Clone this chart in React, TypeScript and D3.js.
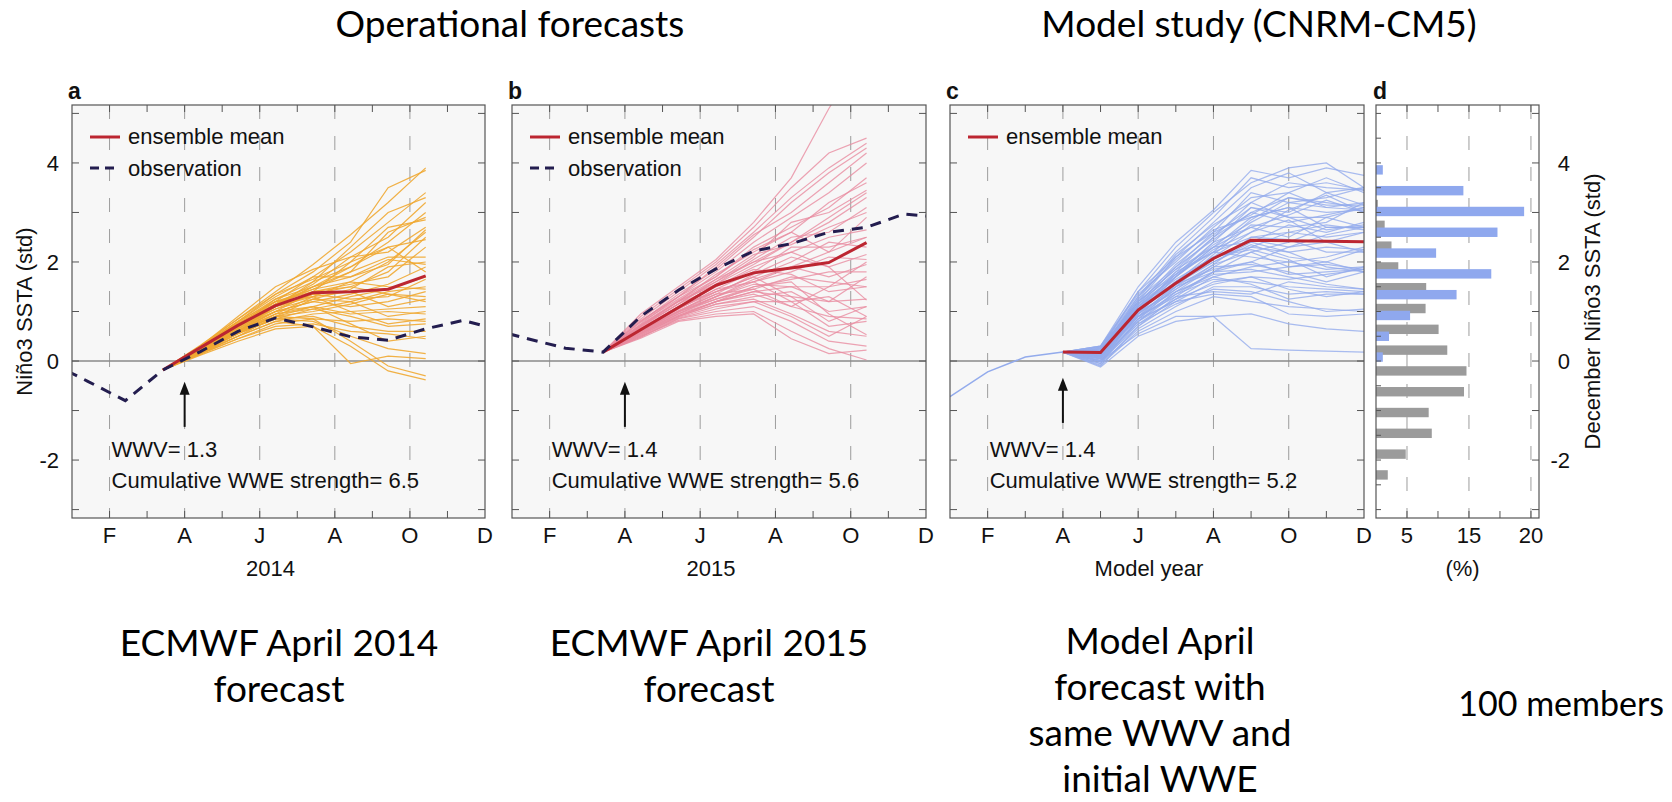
import React from 'react';
import * as d3 from 'd3';

const W = 1672;
const H = 802;
const TOP = 105;
const BOTTOM = 518;
const FONT = "'Liberation Sans', Arial, Helvetica, sans-serif";
const TITLE_FONT = "Lato, 'Open Sans', sans-serif";

// y axis (std) shared by all panels
const yDomain: [number, number] = [-3.17, 5.17];
const yTickLabels = [4, 2, 0, -2];

// months: 1 = Jan (left edge) ... 12 = Dec (right edge)
const monthGrid = [2, 4, 6, 8, 10, 12];
const monthGridLabels = ['F', 'A', 'J', 'A', 'O', 'D'];
// monthly means in a and b are drawn a bit after the month start
const MONTH_OFFSET = 0.42;

// observations (prev Dec .. Dec)
const obsMonths = [0, 1, 2, 3, 4, 5, 6, 7, 8, 9, 10, 11, 12];
const obsA = [-0.03, -0.41, -0.8, -0.18, 0.19, 0.6, 0.87, 0.69, 0.49, 0.42, 0.65, 0.82, 0.62];
const obsB = [0.65, 0.45, 0.26, 0.18, 0.9, 1.43, 1.86, 2.22, 2.37, 2.6, 2.7, 2.97, 2.9];

// ECMWF forecasts: start in March, members Apr..Oct
const startMonthAB = 3;
const memberMonthsAB = [4, 5, 6, 7, 8, 9, 10];
const meanMonthsAB = [3, 4, 5, 6, 7, 8, 9, 10];
const startA = -0.18;
const meanA = [-0.18, 0.27, 0.72, 1.12, 1.38, 1.4, 1.45, 1.72];
const membersA = [
  [0.32, 0.85, 1.4, 1.95, 2.55, 3.2, 3.9],
  [0.3, 0.8, 1.35, 1.8, 2.4, 3.5, 3.85],
  [0.28, 0.75, 1.2, 1.7, 2.2, 2.8, 3.4],
  [0.25, 0.7, 1.25, 1.6, 2.3, 3.0, 3.3],
  [0.3, 0.9, 1.5, 1.85, 2.1, 2.5, 3.2],
  [0.22, 0.65, 1.1, 1.5, 1.9, 2.4, 3.0],
  [0.27, 0.75, 1.2, 1.45, 1.8, 2.6, 2.9],
  [0.2, 0.6, 1.0, 1.4, 2.0, 2.7, 2.85],
  [0.25, 0.7, 1.15, 1.55, 2.1, 2.2, 2.7],
  [0.3, 0.8, 1.3, 1.7, 1.7, 1.95, 2.65],
  [0.18, 0.55, 0.95, 1.3, 1.6, 2.0, 2.6],
  [0.26, 0.72, 1.05, 1.35, 1.5, 1.8, 2.5],
  [0.2, 0.6, 1.1, 1.6, 1.9, 2.3, 2.45],
  [0.24, 0.68, 1.2, 1.4, 1.55, 1.7, 2.3],
  [0.15, 0.5, 0.9, 1.25, 1.45, 1.9, 2.0],
  [0.28, 0.78, 1.25, 1.5, 1.7, 2.05, 1.95],
  [0.22, 0.62, 1.0, 1.2, 1.35, 1.55, 1.9],
  [0.3, 0.85, 1.35, 1.65, 2.0, 2.3, 1.8],
  [0.2, 0.6, 0.95, 1.1, 1.3, 1.45, 1.7],
  [0.25, 0.72, 1.1, 1.35, 1.25, 1.3, 1.65],
  [0.18, 0.55, 0.85, 1.05, 1.2, 1.4, 1.5],
  [0.27, 0.75, 1.15, 1.45, 1.6, 1.5, 1.45],
  [0.23, 0.65, 1.0, 1.2, 1.1, 1.2, 1.4],
  [0.2, 0.58, 0.9, 1.0, 1.15, 1.35, 1.3],
  [0.28, 0.8, 1.2, 1.3, 1.4, 1.1, 1.25],
  [0.16, 0.5, 0.8, 0.95, 1.0, 1.05, 1.1],
  [0.24, 0.66, 1.05, 1.25, 1.2, 0.9, 1.0],
  [0.2, 0.6, 0.9, 1.1, 0.95, 1.0, 0.95],
  [0.26, 0.7, 1.1, 1.3, 1.0, 0.75, 0.85],
  [0.14, 0.45, 0.75, 0.85, 0.8, 0.85, 0.8],
  [0.22, 0.62, 0.95, 1.05, 0.9, 0.7, 0.75],
  [0.18, 0.55, 0.85, 0.9, 0.7, 0.6, 0.6],
  [0.25, 0.7, 1.0, 1.1, 0.75, 0.4, 0.5],
  [0.15, 0.45, 0.7, 0.75, 0.6, 0.55, 0.45],
  [0.2, 0.58, 0.85, 0.8, 0.5, 0.25, 0.15],
  [0.12, 0.4, 0.65, 0.7, -0.05, 0.1, 0.05],
  [0.22, 0.6, 0.9, 0.85, 0.4, -0.1, -0.3],
  [0.18, 0.5, 0.8, 0.7, 0.3, -0.2, -0.38],
  [0.26, 0.72, 1.1, 1.4, 1.5, 1.35, 1.2],
  [0.24, 0.68, 1.15, 1.5, 1.8, 2.1, 2.1],
];

const startB = 0.18;
const meanB = [0.18, 0.63, 1.08, 1.53, 1.78, 1.88, 1.99, 2.39];
const membersB = [
  [0.95, 1.5, 2.05, 2.8, 3.7, 5.1, 6.3],
  [0.9, 1.45, 2.0, 2.7, 3.5, 4.2, 4.5],
  [0.85, 1.4, 1.95, 2.6, 3.3, 3.9, 4.4],
  [0.8, 1.35, 1.85, 2.5, 3.2, 3.8, 4.3],
  [0.82, 1.3, 1.9, 2.55, 3.0, 3.6, 4.2],
  [0.75, 1.3, 1.8, 2.4, 2.9, 3.4, 4.0],
  [0.78, 1.25, 1.7, 2.3, 2.7, 3.1, 3.7],
  [0.7, 1.2, 1.75, 2.2, 2.6, 3.2, 3.6],
  [0.72, 1.2, 1.6, 2.1, 2.8, 3.0, 3.45],
  [0.68, 1.15, 1.65, 2.0, 2.4, 2.9, 3.4],
  [0.65, 1.1, 1.55, 2.05, 2.5, 2.6, 3.1],
  [0.7, 1.15, 1.5, 1.9, 2.2, 2.5, 2.65],
  [0.62, 1.05, 1.45, 1.8, 2.3, 2.3, 2.5],
  [0.66, 1.1, 1.4, 1.7, 2.0, 2.4, 2.3],
  [0.6, 1.0, 1.35, 1.75, 2.1, 1.9, 2.15],
  [0.64, 1.05, 1.45, 1.6, 1.8, 2.1, 2.05],
  [0.58, 0.98, 1.3, 1.65, 1.9, 1.7, 1.95],
  [0.6, 1.0, 1.25, 1.5, 1.65, 1.8, 1.8],
  [0.55, 0.95, 1.3, 1.55, 1.5, 1.5, 1.65],
  [0.62, 1.02, 1.35, 1.45, 1.7, 1.6, 1.5],
  [0.56, 0.92, 1.2, 1.4, 1.3, 1.2, 1.25],
  [0.52, 0.9, 1.15, 1.3, 1.4, 1.0, 1.1],
  [0.58, 0.95, 1.2, 1.35, 1.1, 0.9, 0.85],
  [0.5, 0.88, 1.1, 1.2, 1.2, 0.7, 0.8],
  [0.54, 0.9, 1.15, 1.25, 0.95, 0.6, 0.5],
  [0.48, 0.85, 1.0, 1.1, 0.8, 0.4, 0.3],
  [0.5, 0.82, 0.95, 1.0, 0.6, 0.25, 0.02],
  [0.46, 0.8, 0.9, 0.95, 0.45, 0.15, 0.22],
  [0.6, 1.0, 1.3, 1.6, 1.2, 1.3, 0.9],
  [0.55, 0.92, 1.2, 1.5, 1.6, 0.95, 0.53],
  [0.7, 1.15, 1.6, 2.0, 2.2, 1.9, 1.23],
  [0.66, 1.08, 1.5, 1.85, 1.75, 1.4, 1.5],
  [0.74, 1.22, 1.65, 2.15, 2.35, 2.7, 3.0],
  [0.8, 1.3, 1.7, 2.25, 2.6, 2.2, 2.5],
  [0.52, 0.9, 1.2, 1.4, 1.5, 1.2, 1.7],
  [0.62, 1.0, 1.4, 1.7, 1.3, 0.8, 1.1],
  [0.72, 1.2, 1.55, 1.95, 2.4, 2.8, 3.3],
  [0.57, 0.96, 1.25, 1.45, 1.1, 1.5, 2.0],
  [0.64, 1.06, 1.4, 1.6, 1.9, 2.2, 2.9],
  [0.48, 0.86, 1.05, 1.2, 0.9, 0.5, 0.9],
];

// CNRM-CM5 model study: history Jan..Apr, members May..Dec
const historyMonthsC = [1, 2, 3, 4];
const historyC = [-0.72, -0.22, 0.08, 0.18];
const startMonthC = 4;
const startC = 0.18;
const memberMonthsC = [5, 6, 7, 8, 9, 10, 11, 12];
const meanMonthsC = [4, 5, 6, 7, 8, 9, 10, 11, 12];
const meanC = [0.18, 0.17, 1.03, 1.57, 2.07, 2.44, 2.43, 2.42, 2.41];
const membersC = [
  [0.3, 1.5, 2.4, 3.05, 3.85, 3.7, 3.9, 3.75],
  [0.25, 1.4, 2.3, 3.0, 3.6, 3.9, 4.0, 3.5],
  [0.2, 1.3, 2.2, 2.9, 3.7, 3.5, 3.6, 3.45],
  [0.15, 1.2, 2.1, 2.8, 3.5, 3.8, 3.4, 3.5],
  [0.3, 1.35, 2.0, 2.7, 3.3, 3.4, 3.7, 3.4],
  [0.1, 1.1, 1.9, 2.6, 3.4, 3.2, 3.3, 3.5],
  [0.22, 1.25, 2.15, 2.75, 3.2, 3.6, 3.5, 3.45],
  [0.05, 1.0, 1.8, 2.5, 3.0, 3.3, 3.2, 3.1],
  [0.18, 1.15, 1.95, 2.55, 3.1, 3.0, 3.4, 3.15],
  [0.28, 1.3, 2.05, 2.65, 2.9, 3.1, 3.0, 3.05],
  [0.12, 1.05, 1.75, 2.35, 2.8, 3.2, 3.1, 3.2],
  [0.0, 0.95, 1.7, 2.4, 3.1, 2.9, 2.9, 3.1],
  [0.2, 1.2, 1.85, 2.3, 2.7, 2.95, 3.25, 3.0],
  [0.08, 1.0, 1.6, 2.2, 2.85, 3.3, 3.15, 3.15],
  [0.25, 1.25, 1.9, 2.45, 3.0, 2.8, 2.95, 3.1],
  [0.15, 1.1, 1.65, 2.1, 2.6, 3.05, 3.35, 3.0],
  [-0.05, 0.85, 1.5, 2.15, 2.75, 2.7, 2.8, 3.2],
  [0.3, 1.4, 2.1, 2.6, 2.95, 3.4, 3.1, 3.05],
  [0.1, 1.0, 1.7, 2.3, 2.9, 3.1, 2.7, 2.7],
  [0.22, 1.15, 1.8, 2.2, 2.5, 2.6, 2.75, 2.65],
  [0.05, 0.9, 1.55, 2.0, 2.4, 2.75, 2.6, 2.8],
  [0.18, 1.1, 1.75, 2.4, 2.7, 2.5, 2.9, 2.7],
  [0.0, 0.8, 1.4, 1.9, 2.3, 2.6, 2.5, 2.6],
  [0.28, 1.2, 1.85, 2.5, 3.2, 2.9, 2.65, 2.75],
  [0.12, 1.05, 1.6, 2.05, 2.45, 2.3, 2.55, 2.7],
  [0.2, 1.1, 1.7, 2.25, 2.6, 2.85, 2.4, 2.6],
  [-0.1, 0.7, 1.3, 1.8, 2.2, 2.4, 2.7, 2.7],
  [0.15, 1.05, 1.6, 2.1, 2.3, 2.2, 2.3, 2.25],
  [0.08, 0.9, 1.45, 1.95, 2.5, 2.45, 2.2, 2.2],
  [0.24, 1.2, 1.75, 2.2, 2.1, 2.0, 2.1, 2.3],
  [0.02, 0.8, 1.35, 1.8, 2.0, 2.3, 2.4, 2.2],
  [0.18, 1.0, 1.6, 2.0, 2.35, 2.1, 2.0, 2.25],
  [0.1, 0.95, 1.5, 1.95, 2.2, 1.9, 1.95, 1.85],
  [0.26, 1.15, 1.7, 2.3, 2.4, 2.2, 1.9, 1.8],
  [-0.02, 0.75, 1.25, 1.7, 1.9, 2.0, 1.85, 1.9],
  [0.14, 1.0, 1.55, 1.85, 2.0, 1.75, 1.8, 1.85],
  [0.06, 0.85, 1.4, 1.75, 1.8, 1.9, 2.0, 1.8],
  [0.2, 1.05, 1.6, 2.1, 2.25, 2.05, 1.7, 1.9],
  [0.0, 0.7, 1.2, 1.6, 1.7, 1.65, 1.75, 1.85],
  [0.16, 0.95, 1.45, 1.9, 1.95, 1.8, 1.6, 1.8],
  [0.1, 0.9, 1.35, 1.65, 1.6, 1.5, 1.45, 1.4],
  [0.22, 1.1, 1.5, 1.8, 1.85, 1.7, 1.55, 1.45],
  [-0.05, 0.65, 1.1, 1.5, 1.5, 1.35, 1.4, 1.35],
  [0.04, 0.8, 1.25, 1.55, 1.7, 1.45, 1.3, 1.4],
  [0.12, 0.9, 1.3, 1.4, 1.35, 1.6, 1.5, 1.45],
  [0.18, 1.0, 1.4, 1.7, 1.55, 1.25, 1.35, 1.35],
  [-0.08, 0.6, 1.0, 1.3, 1.2, 1.1, 1.05, 1.0],
  [0.08, 0.75, 1.15, 1.45, 1.4, 1.2, 1.0, 1.05],
  [0.14, 0.85, 1.2, 1.35, 1.3, 0.95, 0.9, 0.95],
  [-0.12, 0.5, 0.8, 0.9, 0.95, 0.75, 0.65, 0.6],
  [0.0, 0.55, 0.9, 0.9, 0.25, 0.22, 0.2, 0.18],
];

// histogram (d): bin centres (std) and percentages
const binCentersD = [3.93, 3.51, 3.09, 2.67, 2.25, 1.83, 1.41, 0.99, 0.57, 0.15, -0.27, -0.69, -1.11, -1.53, -1.95, -2.37];
const blueD = [1.1, 14.1, 23.9, 19.6, 9.7, 18.6, 13.0, 5.5, 2.1, 1.1, 0, 0, 0, 0, 0, 0];
const grayD = [0, 0, 0.3, 1.4, 2.5, 3.6, 8.1, 8.0, 10.1, 11.5, 14.6, 14.2, 8.5, 9.0, 4.8, 1.9];
const pctDomain: [number, number] = [0, 26.3];
const pctTicks = [5, 10, 15, 20, 25];
const pctGrid = [5, 15, 25];
const pctLabels = ['5', '15', '20'];

const RED = '#bc2631';
const NAVY = '#231d4f';

const y = d3.scaleLinear().domain(yDomain).range([BOTTOM, TOP]);

type Pt = [number, number];

type PanelProps = {
  id: string;
  x0: number;
  x1: number;
  letter: string;
  members: number[][];
  memberMonths: number[];
  startMonth: number;
  startValue: number;
  memberColor: string;
  memberOpacity: number;
  mean: number[];
  meanMonths: number[];
  offset: number;
  obs?: number[];
  history?: number[];
  historyMonths?: number[];
  wwv: string;
  wwe: string;
  arrow: [number, number];
  xTitle: string;
  yLabels: boolean;
};

function LinePanel(p: PanelProps) {
  const x = d3.scaleLinear().domain([1, 12]).range([p.x0, p.x1]);
  const line = d3
    .line<Pt>()
    .x((d) => x(d[0] + p.offset))
    .y((d) => y(d[1]));
  const tick = 7;
  const yTicks = d3.range(-3, 6);
  const mTicks = d3.range(2, 12);
  const lx = p.x0 + 18;

  return (
    <g>
      <defs>
        <clipPath id={`clip-${p.id}`}>
          <rect x={p.x0} y={TOP} width={p.x1 - p.x0} height={BOTTOM - TOP} />
        </clipPath>
      </defs>
      <rect x={p.x0} y={TOP} width={p.x1 - p.x0} height={BOTTOM - TOP} fill="#f7f7f7" />
      {monthGrid.slice(0, -1).map((m) => (
        <line key={m} x1={x(m)} x2={x(m)} y1={TOP} y2={BOTTOM} stroke="#9d9d9d" strokeWidth={1} strokeDasharray="14,17" />
      ))}
      <line x1={p.x0} x2={p.x1} y1={y(0)} y2={y(0)} stroke="#8a8a8a" strokeWidth={1.3} />
      <g clipPath={`url(#clip-${p.id})`}>
        {p.members.map((row, i) => (
          <path
            key={i}
            d={line([[p.startMonth, p.startValue] as Pt, ...row.map((v, j) => [p.memberMonths[j], v] as Pt)]) || ''}
            fill="none"
            stroke={p.memberColor}
            strokeOpacity={p.memberOpacity}
            strokeWidth={1.2}
          />
        ))}
        {p.history && p.historyMonths && (
          <path
            d={line(p.history.map((v, j) => [p.historyMonths![j], v] as Pt)) || ''}
            fill="none"
            stroke={p.memberColor}
            strokeWidth={1.5}
          />
        )}
        <path
          d={line(p.mean.map((v, j) => [p.meanMonths[j], v] as Pt)) || ''}
          fill="none"
          stroke={RED}
          strokeWidth={3}
          strokeLinejoin="round"
        />
        {p.obs && (
          <path
            d={line(p.obs.map((v, j) => [obsMonths[j], v] as Pt)) || ''}
            fill="none"
            stroke={NAVY}
            strokeWidth={3}
            strokeDasharray="11,8"
          />
        )}
      </g>
      <rect x={p.x0} y={TOP} width={p.x1 - p.x0} height={BOTTOM - TOP} fill="none" stroke="#555" strokeWidth={1.2} />
      {yTicks.map((t) => (
        <g key={t}>
          <line x1={p.x0} x2={p.x0 + tick} y1={y(t)} y2={y(t)} stroke="#555" />
          <line x1={p.x1} x2={p.x1 - tick} y1={y(t)} y2={y(t)} stroke="#555" />
        </g>
      ))}
      {mTicks.map((m) => (
        <g key={m}>
          <line x1={x(m)} x2={x(m)} y1={TOP} y2={TOP + tick} stroke="#555" />
          <line x1={x(m)} x2={x(m)} y1={BOTTOM} y2={BOTTOM - tick} stroke="#555" />
        </g>
      ))}
      {p.yLabels &&
        yTickLabels.map((t) => (
          <text key={t} x={p.x0 - 13} y={y(t) + 8} textAnchor="end" fontSize={22} fontFamily={FONT} fill="#111">
            {t}
          </text>
        ))}
      {monthGrid.map((m, i) => (
        <text key={m} x={x(m)} y={543} textAnchor="middle" fontSize={22} fontFamily={FONT} fill="#111">
          {monthGridLabels[i]}
        </text>
      ))}
      <text x={(p.x0 + p.x1) / 2 - 8} y={576} textAnchor="middle" fontSize={22} fontFamily={FONT} fill="#111">
        {p.xTitle}
      </text>
      <text x={p.x0 - 4} y={99} fontSize={23} fontWeight="bold" fontFamily={FONT} fill="#111">
        {p.letter}
      </text>
      {/* legend */}
      <line x1={lx} x2={lx + 30} y1={137} y2={137} stroke={RED} strokeWidth={3} />
      <text x={lx + 38} y={144} fontSize={22} fontFamily={FONT} fill="#111">
        ensemble mean
      </text>
      {p.obs && (
        <>
          <line x1={lx} x2={lx + 30} y1={168} y2={168} stroke={NAVY} strokeWidth={3} strokeDasharray="9,6" />
          <text x={lx + 38} y={176} fontSize={22} fontFamily={FONT} fill="#111">
            observation
          </text>
        </>
      )}
      {/* arrow at forecast start */}
      <line x1={x(4)} x2={x(4)} y1={y(p.arrow[0])} y2={y(p.arrow[1]) + 10} stroke="#111" strokeWidth={2} />
      <path d={`M${x(4)},${y(p.arrow[1])} l-5,13 l10,0 z`} fill="#111" />
      <text x={x(2) + 2} y={457} fontSize={22} fontFamily={FONT} fill="#111">
        {p.wwv}
      </text>
      <text x={x(2) + 2} y={488} fontSize={22} fontFamily={FONT} fill="#111">
        {p.wwe}
      </text>
    </g>
  );
}

function HistPanel() {
  const x0 = 1376;
  const x1 = 1539;
  const x = d3.scaleLinear().domain(pctDomain).range([x0, x1]);
  const half = 0.095;
  const shift = 0.07;
  const tick = 7;
  return (
    <g>
      <rect x={x0} y={TOP} width={x1 - x0} height={BOTTOM - TOP} fill="#ffffff" />
      {pctGrid.map((v) => (
        <line key={v} x1={x(v)} x2={x(v)} y1={TOP} y2={BOTTOM} stroke="#9d9d9d" strokeDasharray="14,17" />
      ))}
      {grayD.map((v, i) =>
        v > 0 ? (
          <rect
            key={`g${i}`}
            x={x(0)}
            y={y(binCentersD[i] + shift + half)}
            width={x(v) - x(0)}
            height={y(binCentersD[i] + shift - half) - y(binCentersD[i] + shift + half)}
            fill="#9b9b9b"
          />
        ) : null
      )}
      {blueD.map((v, i) =>
        v > 0 ? (
          <rect
            key={`b${i}`}
            x={x(0)}
            y={y(binCentersD[i] - shift + half)}
            width={x(v) - x(0)}
            height={y(binCentersD[i] - shift - half) - y(binCentersD[i] - shift + half)}
            fill="#8fa8ee"
          />
        ) : null
      )}
      <rect x={x0} y={TOP} width={x1 - x0} height={BOTTOM - TOP} fill="none" stroke="#555" strokeWidth={1.2} />
      {d3.range(-3, 5.01, 0.5).map((t) => (
        <line key={`l${t}`} x1={x0} x2={x0 + 5} y1={y(t)} y2={y(t)} stroke="#555" />
      ))}
      {d3.range(-3, 6).map((t) => (
        <line key={`r${t}`} x1={x1} x2={x1 - tick} y1={y(t)} y2={y(t)} stroke="#555" />
      ))}
      {pctTicks.map((v) => (
        <g key={v}>
          <line x1={x(v)} x2={x(v)} y1={TOP} y2={TOP + tick} stroke="#555" />
          <line x1={x(v)} x2={x(v)} y1={BOTTOM} y2={BOTTOM - tick} stroke="#555" />
        </g>
      ))}
      {pctGrid.map((v, i) => (
        <text key={v} x={x(v)} y={543} textAnchor="middle" fontSize={22} fontFamily={FONT} fill="#111">
          {pctLabels[i]}
        </text>
      ))}
      {yTickLabels.map((t) => (
        <text key={t} x={1570} y={y(t) + 8} textAnchor="end" fontSize={22} fontFamily={FONT} fill="#111">
          {t}
        </text>
      ))}
      <text
        transform={`translate(1600,${(TOP + BOTTOM) / 2}) rotate(-90)`}
        textAnchor="middle"
        fontSize={22}
        fontFamily={FONT}
        fill="#111"
      >
        December Niño3 SSTA (std)
      </text>
      <text x={(x0 + x1) / 2 + 5} y={576} textAnchor="middle" fontSize={22} fontFamily={FONT} fill="#111">
        (%)
      </text>
      <text x={x0 - 3} y={99} fontSize={23} fontWeight="bold" fontFamily={FONT} fill="#111">
        d
      </text>
    </g>
  );
}

function Caption({
  cx,
  y0,
  lines,
  size = 37,
  anchor = 'middle',
}: {
  cx: number;
  y0: number;
  lines: string[];
  size?: number;
  anchor?: string;
}) {
  return (
    <text textAnchor={anchor} fontSize={size} fontFamily={TITLE_FONT} fill="#000">
      {lines.map((l, i) => (
        <tspan key={i} x={cx} y={y0 + i * 46}>
          {l}
        </tspan>
      ))}
    </text>
  );
}

export default function App() {
  return (
    <svg width={W} height={H} style={{ position: 'absolute', left: 0, top: 0, background: '#fff' }}>
      <rect width={W} height={H} fill="#fff" />
      <Caption cx={510} y0={37} lines={['Operational forecasts']} />
      <Caption cx={1259} y0={37} lines={['Model study (CNRM-CM5)']} />

      <text
        transform={`translate(32,${(TOP + BOTTOM) / 2}) rotate(-90)`}
        textAnchor="middle"
        fontSize={22}
        fontFamily={FONT}
        fill="#111"
      >
        Niño3 SSTA (std)
      </text>

      <LinePanel
        id="a"
        x0={72}
        x1={485}
        letter="a"
        members={membersA}
        memberMonths={memberMonthsAB}
        startMonth={startMonthAB}
        startValue={startA}
        memberColor="#f0a832"
        memberOpacity={0.9}
        mean={meanA}
        meanMonths={meanMonthsAB}
        offset={MONTH_OFFSET}
        obs={obsA}
        wwv="WWV= 1.3"
        wwe="Cumulative WWE strength= 6.5"
        arrow={[-1.33, -0.42]}
        xTitle="2014"
        yLabels
      />
      <LinePanel
        id="b"
        x0={512}
        x1={926}
        letter="b"
        members={membersB}
        memberMonths={memberMonthsAB}
        startMonth={startMonthAB}
        startValue={startB}
        memberColor="#e98ca0"
        memberOpacity={0.8}
        mean={meanB}
        meanMonths={meanMonthsAB}
        offset={MONTH_OFFSET}
        obs={obsB}
        wwv="WWV= 1.4"
        wwe="Cumulative WWE strength= 5.6"
        arrow={[-1.33, -0.42]}
        xTitle="2015"
        yLabels={false}
      />
      <LinePanel
        id="c"
        x0={950}
        x1={1364}
        letter="c"
        members={membersC}
        memberMonths={memberMonthsC}
        startMonth={startMonthC}
        startValue={startC}
        memberColor="#93abec"
        memberOpacity={0.8}
        mean={meanC}
        meanMonths={meanMonthsC}
        offset={0}
        history={historyC}
        historyMonths={historyMonthsC}
        wwv="WWV= 1.4"
        wwe="Cumulative WWE strength= 5.2"
        arrow={[-1.25, -0.34]}
        xTitle="Model year"
        yLabels={false}
      />
      <HistPanel />

      <Caption cx={279} y0={656} lines={['ECMWF April 2014', 'forecast']} />
      <Caption cx={709} y0={656} lines={['ECMWF April 2015', 'forecast']} />
      <Caption cx={1160} y0={654} lines={['Model April', 'forecast with', 'same WWV and', 'initial WWE']} />
      <Caption cx={1664} y0={716} lines={['100 members']} size={34} anchor="end" />
    </svg>
  );
}
